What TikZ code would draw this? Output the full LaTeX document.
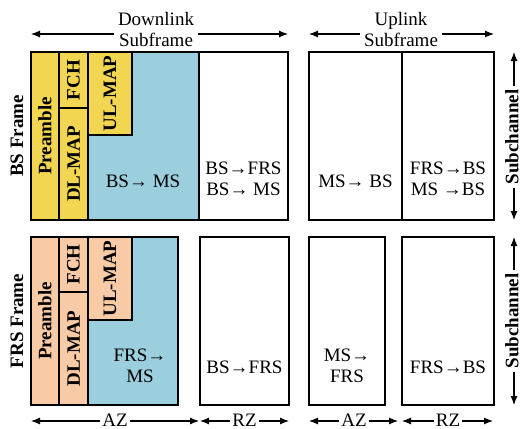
\documentclass[tikz,border=0pt]{standalone}
\usepackage{fontspec}
\setmainfont{Liberation Serif}
\usetikzlibrary{arrows.meta}

\definecolor{mapyel}{RGB}{242,214,82}
\definecolor{mapsal}{RGB}{248,202,166}
\definecolor{burstblue}{RGB}{155,207,222}

\begin{document}
\begin{tikzpicture}[x=1pt,y=-1pt,font=\fontsize{19}{21}\selectfont,
    dimline/.style={{Latex[length=9pt,width=7pt]}-{Latex[length=9pt,width=7pt]},line width=1.1pt},
    dimlab/.style={fill=white,inner xsep=4pt,inner ysep=1pt,align=center}]
\useasboundingbox (0,0) rectangle (523,429);

% BS frame
\begin{scope}[every node/.style={draw,line width=1.1pt,inner sep=0pt}]
    \node[fill=burstblue,minimum width=168,minimum height=168] (bsaz) at (115,136) {};
    \node[fill=mapyel,rotate=90,minimum width=168,minimum height=28] (pre1) at (45,136) {\bfseries Preamble};
    \node[fill=mapyel,rotate=90,minimum width=56,minimum height=29] (fch1) at (73.5,80) {\bfseries FCH};
    \node[fill=mapyel,rotate=90,minimum width=112,minimum height=29] (dl1) at (73.5,164) {\bfseries DL-MAP};
    \node[fill=mapyel,rotate=90,minimum width=83,minimum height=44] (ul1) at (110,93.5) {\bfseries UL-MAP};
    \node[minimum width=89,minimum height=168] (bsrz) at (243.5,136) {};
    \node[minimum width=93,minimum height=168] (bsul1) at (355.5,136) {};
    \node[minimum width=92,minimum height=168] (bsul2) at (448,136) {};
\end{scope}

% FRS frame
\begin{scope}[every node/.style={draw,line width=1.1pt,inner sep=0pt}]
    \node[fill=burstblue,minimum width=147,minimum height=168] (frsaz) at (104.5,321) {};
    \node[fill=mapsal,rotate=90,minimum width=168,minimum height=28] (pre2) at (45,321) {\bfseries Preamble};
    \node[fill=mapsal,rotate=90,minimum width=55,minimum height=29] (fch2) at (73.5,264.5) {\bfseries FCH};
    \node[fill=mapsal,rotate=90,minimum width=113,minimum height=29] (dl2) at (73.5,348.5) {\bfseries DL-MAP};
    \node[fill=mapsal,rotate=90,minimum width=83,minimum height=44] (ul2) at (110,278.5) {\bfseries UL-MAP};
    \node[minimum width=89,minimum height=168] (frsrz) at (244.5,321) {};
    \node[minimum width=76,minimum height=168] (frsul1) at (347,321) {};
    \node[minimum width=92,minimum height=168] (frsul2) at (448,321) {};
\end{scope}

% traffic labels
\begin{scope}[every node/.style={align=center,inner sep=0pt}]
    \node (t1) at (143,181) {BS→ MS};
    \node (t2) at (243.5,178.5) {BS→FRS\\BS→ MS};
    \node (t3) at (355.5,181) {MS→ BS};
    \node (t4) at (448,178.5) {FRS→BS\\MS →BS};
    \node (t5) at (140,365.5) {FRS→\\MS};
    \node (t6) at (244.5,367) {BS→FRS};
    \node (t7) at (347,365.5) {MS→\\FRS};
    \node (t8) at (448,367) {FRS→BS};
\end{scope}

\node[rotate=90] (bsf) at (17,136) {\bfseries BS Frame};
\node[rotate=90] (frsf) at (17,321) {\bfseries FRS Frame};

% subframe arrows
\coordinate (dlw) at (31,34);
\coordinate (dle) at (288,34);
\coordinate (ulw) at (309,34);
\coordinate (ule) at (494,34);
\draw[dimline] (dlw) -- (dle);
\draw[dimline] (ulw) -- (ule);
\node[dimlab] (dlab) at (156,29) {Downlink\\Subframe};
\node[dimlab] (ulab) at (401,29) {Uplink\\Subframe};

% zone arrows
\coordinate (az1w) at (31,421);
\coordinate (az1e) at (199,421);
\coordinate (rz1w) at (200,421);
\coordinate (rz1e) at (289,421);
\coordinate (az2w) at (309,421);
\coordinate (az2e) at (398,421);
\coordinate (rz2w) at (402,421);
\coordinate (rz2e) at (493,421);
\draw[dimline] (az1w) -- (az1e);
\draw[dimline] (rz1w) -- (rz1e);
\draw[dimline] (az2w) -- (az2e);
\draw[dimline] (rz2w) -- (rz2e);
\node[dimlab,inner xsep=2pt,inner ysep=0pt] (az1) at (115,420) {AZ};
\node[dimlab,inner xsep=2pt,inner ysep=0pt] (rz1) at (244.5,420) {RZ};
\node[dimlab,inner xsep=2pt,inner ysep=0pt] (az2) at (354,420) {AZ};
\node[dimlab,inner xsep=2pt,inner ysep=0pt] (rz2) at (448,420) {RZ};

% subchannel arrows
\coordinate (sc1n) at (514,52);
\coordinate (sc1s) at (514,220);
\coordinate (sc2n) at (514,237);
\coordinate (sc2s) at (514,405);
\draw[dimline] (sc1n) -- (sc1s);
\draw[dimline] (sc2n) -- (sc2s);
\node[dimlab,rotate=90,inner xsep=3pt,inner ysep=0pt] (sc1) at (512,137) {\bfseries Subchannel};
\node[dimlab,rotate=90,inner xsep=3pt,inner ysep=0pt] (sc2) at (512,321) {\bfseries Subchannel};
\end{tikzpicture}
\end{document}
